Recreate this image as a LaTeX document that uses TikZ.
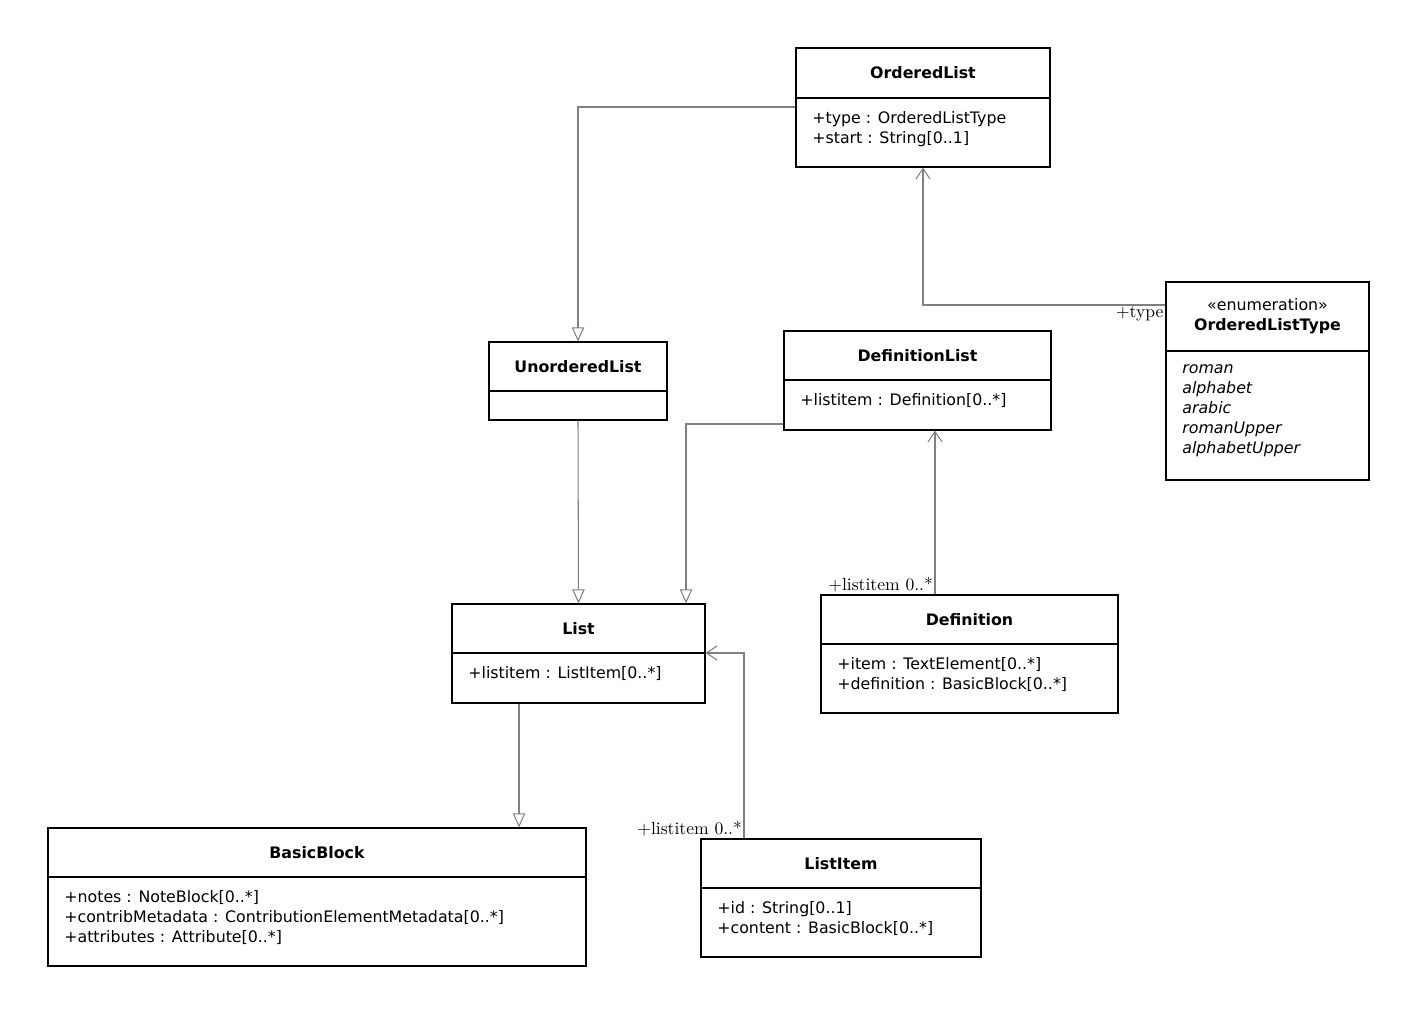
\documentclass[tikz,border=0pt]{standalone}
\usepackage{fontspec}
\newfontfamily\umlfont{DejaVu Sans}
\usetikzlibrary{arrows.meta}
\tikzset{
  classbox/.style={draw, line width=0.6pt, inner sep=0pt},
  classtitle/.style={font=\umlfont\fontsize{9}{11.4}\selectfont\bfseries, align=center, inner sep=0pt},
  classattr/.style={font=\umlfont\fontsize{9}{11.4}\selectfont, align=left, anchor=north west, inner sep=0pt},
  generalization/.style={draw=gray, line width=0.6pt, -{Triangle[open, length=8pt, width=7pt]}},
  association/.style={draw=gray, line width=0.6pt, -{Straight Barb[length=6pt, width=8pt]}},
  rolelabel/.style={font=\fontsize{10}{12}\selectfont, inner sep=1pt}
}
% ---- class box: name, left, top, right, bottom, divider, title, attributes
\newcommand{\umlClass}[8]{%
  \node[classbox, minimum width={(#4-#2)*0.02cm}, minimum height={(#5-#3)*0.02cm}] (#1) at ({(#2+#4)/2}, {(#3+#5)/2}) {};
  \draw[line width=0.6pt] (#2, #6) -- (#4, #6);
  \node[classtitle] (#1Title) at ({(#2+#4)/2}, {(#3+#6)/2}) {#7};
  \node[classattr] (#1Attr) at (#2+16, #6+13) {#8};
}
\begin{document}
\begin{tikzpicture}[x=0.02cm, y=-0.02cm]
\useasboundingbox (0,0) rectangle (1417,1015);

% ---- Classes
\umlClass{orderedList}{796}{48}{1050}{167}{98}{OrderedList}{+type : OrderedListType\\+start : String[0..1]}
\umlClass{unorderedList}{489}{342}{667}{420}{391}{UnorderedList}{}
\umlClass{definitionList}{784}{331}{1051}{430}{380}{DefinitionList}{+listitem : Definition[0..*]}
\umlClass{orderedListType}{1166}{282}{1369}{480}{351}{\mdseries «enumeration»\\OrderedListType}{\itshape roman\\\itshape alphabet\\\itshape arabic\\\itshape romanUpper\\\itshape alphabetUpper}
\umlClass{list}{452}{604}{705}{703}{653}{List}{+listitem : ListItem[0..*]}
\umlClass{definition}{821}{595}{1118}{713}{644}{Definition}{+item : TextElement[0..*]\\+definition : BasicBlock[0..*]}
\umlClass{basicBlock}{48}{828}{586}{966}{877}{BasicBlock}{+notes : NoteBlock[0..*]\\+contribMetadata : ContributionElementMetadata[0..*]\\+attributes : Attribute[0..*]}
\umlClass{listItem}{701}{839}{981}{957}{888}{ListItem}{+id : String[0..1]\\+content : BasicBlock[0..*]}

% ---- Generalizations
\draw[generalization] (orderedList.west |- 0,107) -| (unorderedList.north);
\draw[generalization] (unorderedList.south) -- (list.north);
\draw[generalization] (definitionList.west |- 0,424) -| (list.north -| 686,0);
\draw[generalization] (list.south -| 519,0) -- (basicBlock.north -| 519,0);

% ---- Associations
\draw[association] (orderedListType.west |- 0,305) -| (orderedList.south -| 923,0);
\node[rolelabel, anchor=north east] (typeRole) at (orderedListType.west |- 0,305) {+type};
\draw[association] (definition.north -| 935,0) -- (definitionList.south -| 935,0);
\node[rolelabel, anchor=south east] (defRole) at (definition.north -| 935,0) {+listitem 0..*};
\draw[association] (listItem.north -| 744,0) |- (list.east |- 0,653);
\node[rolelabel, anchor=south east] (itemRole) at (listItem.north -| 744,0) {+listitem 0..*};
\end{tikzpicture}
\end{document}
